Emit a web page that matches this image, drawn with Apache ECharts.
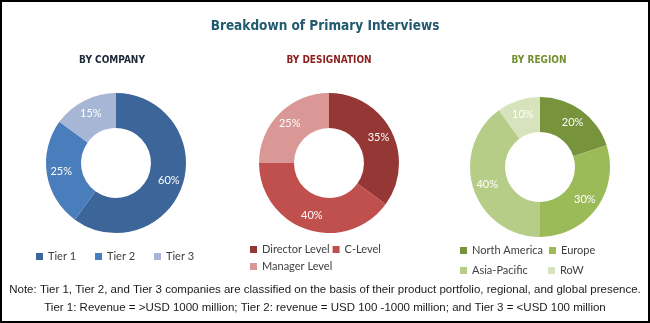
<!DOCTYPE html>
<html><head><meta charset="utf-8">
<script src="https://cdn.jsdelivr.net/npm/echarts@6/dist/echarts.min.js"></script>
<style>html,body{margin:0;padding:0;background:#fff}#c{width:650px;height:323px}</style>
</head><body><div id="c"></div>
<script>
const chartTitle = 'Breakdown of Primary Interviews';
const subTitles = ['BY COMPANY', 'BY DESIGNATION', 'BY REGION'];
const companyNames = ['Tier 1', 'Tier 2', 'Tier 3'];
const companyValues = [60, 25, 15];
const designationNames = ['Director Level', 'C-Level', 'Manager Level'];
const designationValues = [35, 40, 25];
const regionNames = ['North America', 'Europe', 'Asia-Pacific', 'RoW'];
const regionValues = [20, 30, 40, 10];
const notes = [
  'Note: Tier 1, Tier 2, and Tier 3 companies are classified on the basis of their product portfolio, regional, and global presence.',
  'Tier 1: Revenue = >USD 1000 million; Tier 2: revenue = USD 100 -1000 million; and Tier 3 = <USD 100 million'
];

const companyColors = ['#3c659a', '#4a7dbb', '#a7b6d4'];
const designationColors = ['#953735', '#c0504d', '#d99795'];
const regionColors = ['#77933c', '#9bbb59', '#b5cd86', '#d6e3bd'];

function mk(names, vals, colors) {
  return names.map((n, i) => ({ name: n, value: vals[i], itemStyle: { color: colors[i] } }));
}

const chart = echarts.init(document.getElementById('c'), null, { renderer: 'canvas' });
const legendText = { fontFamily: 'Lato', fontSize: 11, color: '#404040' };
const condensed = 'DejaVu Sans Condensed';
function pie(center, data) {
  return {
    type: 'pie', center: center, radius: [35, 70], startAngle: 90, clockwise: true,
    avoidLabelOverlap: false, silent: true,
    label: { show: true, position: 'inside', formatter: '{c}%', color: '#ffffff', fontFamily: 'Lato', fontSize: 11 },
    labelLine: { show: false },
    itemStyle: { borderWidth: 0 },
    emphasis: { disabled: true },
    data: data
  };
}
function legend(names, left, top, w, gap) {
  return {
    data: names, left: left, top: top, orient: 'horizontal', itemWidth: 7, itemHeight: 7,
    itemGap: gap, icon: 'rect', padding: 0, selectedMode: false,
    textStyle: Object.assign({ width: w, lineHeight: 13 }, legendText)
  };
}
chart.setOption({
  animation: false,
  title: [
    { text: chartTitle, left: 'center', top: 19, padding: 0,
      textStyle: { fontFamily: condensed, fontWeight: 'bold', fontSize: 13.5, color: '#215a6e' } },
    { text: subTitles[0], left: 112, textAlign: 'center', top: 55, padding: 0,
      textStyle: { fontFamily: condensed, fontWeight: 'bold', fontSize: 10, color: '#1c2838' } },
    { text: subTitles[1], left: 329, textAlign: 'center', top: 55, padding: 0,
      textStyle: { fontFamily: condensed, fontWeight: 'bold', fontSize: 10, color: '#8c1e1e' } },
    { text: subTitles[2], left: 539, textAlign: 'center', top: 55, padding: 0,
      textStyle: { fontFamily: condensed, fontWeight: 'bold', fontSize: 10, color: '#71902f' } },
    { text: notes[0], left: 'center', top: 284, padding: 0,
      textStyle: { fontFamily: 'Liberation Sans', fontWeight: 'normal', fontSize: 11.5, color: '#1a1a1a' } },
    { text: notes[1], left: 'center', top: 302, padding: 0,
      textStyle: { fontFamily: 'Liberation Sans', fontWeight: 'normal', fontSize: 11.5, color: '#1a1a1a' } }
  ],
  legend: [
    legend(companyNames, 36, 250, 47, 0),
    legend(designationNames.slice(0, 2), 250, 243, 67, 3),
    legend(designationNames.slice(2), 250, 260, 67, 3),
    legend(regionNames.slice(0, 2), 460, 244, 70, 6),
    legend(regionNames.slice(2), 460, 264, 70, 6)
  ],
  series: [
    pie([116, 163], mk(companyNames, companyValues, companyColors)),
    pie([329, 163], mk(designationNames, designationValues, designationColors)),
    pie([540, 167], mk(regionNames, regionValues, regionColors))
  ],
  graphic: [{ type: 'rect', shape: { x: 1, y: 1, width: 648, height: 321 }, style: { fill: null, stroke: '#000', lineWidth: 2 }, silent: true }]
});
</script></body></html>
